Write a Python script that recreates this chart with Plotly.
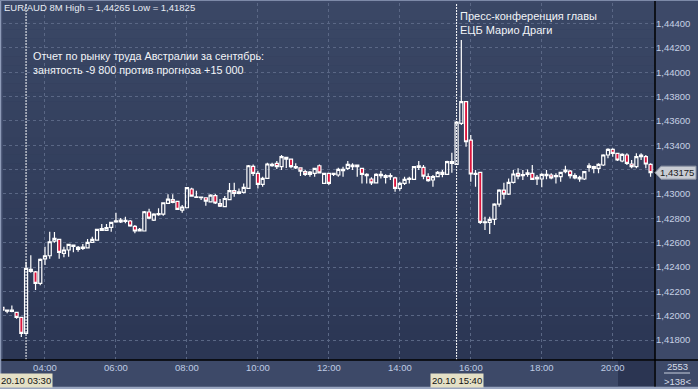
import plotly.graph_objects as go
import pandas as pd

# ---------------- data (EUR/AUD, 8-minute bars, 20.10.2016) ----------------
start_time = "2016-10-20 02:48"
bar_minutes = 8

open_ = [1.42069, 1.42038, 1.42036, 1.42028, 1.41987, 1.41855, 1.42381, 1.42361, 1.42266, 1.42468,
         1.42493, 1.42613, 1.42627, 1.42512, 1.42540, 1.42570, 1.42562, 1.42553, 1.42558, 1.42603,
         1.42622, 1.42701, 1.42701, 1.42726, 1.42770, 1.42770, 1.42775, 1.42778, 1.42734, 1.42696,
         1.42696, 1.42852, 1.42786, 1.42830, 1.42835, 1.42923, 1.42953, 1.42940, 1.42868, 1.42887,
         1.43041, 1.42972, 1.42969, 1.42969, 1.42936, 1.42987, 1.42921, 1.42897, 1.42954, 1.43027,
         1.43005, 1.43013, 1.43046, 1.43227, 1.43170, 1.43079, 1.43128, 1.43232, 1.43252, 1.43224,
         1.43301, 1.43287, 1.43215, 1.43215, 1.43183, 1.43161, 1.43170, 1.43232, 1.43087, 1.43170,
         1.43161, 1.43156, 1.43191, 1.43211, 1.43238, 1.43238, 1.43211, 1.43150, 1.43123, 1.43092,
         1.43150, 1.43150, 1.43142, 1.43133, 1.43046, 1.43087, 1.43120, 1.43120, 1.43219, 1.43219,
         1.43142, 1.43115, 1.43142, 1.43161, 1.43161, 1.43252, 1.43243, 1.43580, 1.43758, 1.43443,
         1.43161, 1.43178, 1.42764, 1.42767, 1.42792, 1.42917, 1.43032, 1.42999, 1.43096, 1.43170,
         1.43151, 1.43161, 1.43170, 1.43123, 1.43123, 1.43150, 1.43156, 1.43142, 1.43142, 1.43183,
         1.43188, 1.43150, 1.43123, 1.43123, 1.43219, 1.43224, 1.43211, 1.43238, 1.43320, 1.43367,
         1.43334, 1.43271, 1.43320, 1.43246, 1.43224, 1.43306, 1.43306, 1.43243]

high = [1.42080, 1.42052, 1.42085, 1.42033, 1.41989, 1.42443, 1.42498, 1.42367, 1.42471, 1.42567,
        1.42690, 1.42687, 1.42630, 1.42567, 1.42588, 1.42585, 1.42572, 1.42589, 1.42630, 1.42649,
        1.42712, 1.42753, 1.42753, 1.42770, 1.42846, 1.42802, 1.42813, 1.42786, 1.42745, 1.42720,
        1.42860, 1.42879, 1.42841, 1.42882, 1.42931, 1.42997, 1.42997, 1.42945, 1.42909, 1.43055,
        1.43051, 1.43027, 1.42980, 1.42972, 1.42997, 1.42999, 1.42958, 1.42983, 1.43090, 1.43092,
        1.43046, 1.43087, 1.43238, 1.43243, 1.43191, 1.43142, 1.43257, 1.43257, 1.43271, 1.43320,
        1.43306, 1.43290, 1.43252, 1.43218, 1.43197, 1.43188, 1.43215, 1.43243, 1.43174, 1.43174,
        1.43174, 1.43215, 1.43224, 1.43271, 1.43252, 1.43243, 1.43215, 1.43170, 1.43137, 1.43170,
        1.43188, 1.43161, 1.43170, 1.43142, 1.43101, 1.43142, 1.43142, 1.43230, 1.43271, 1.43238,
        1.43170, 1.43156, 1.43188, 1.43197, 1.43273, 1.43339, 1.43593, 1.44265, 1.43764, 1.43484,
        1.43197, 1.43180, 1.42813, 1.42813, 1.42923, 1.43038, 1.43092, 1.43128, 1.43197, 1.43211,
        1.43197, 1.43202, 1.43238, 1.43156, 1.43170, 1.43197, 1.43170, 1.43170, 1.43183, 1.43232,
        1.43197, 1.43170, 1.43150, 1.43188, 1.43252, 1.43232, 1.43252, 1.43326, 1.43375, 1.43375,
        1.43339, 1.43334, 1.43334, 1.43279, 1.43334, 1.43334, 1.43320, 1.43252]

low = [1.42038, 1.42020, 1.42030, 1.41975, 1.41825, 1.41850, 1.42353, 1.42211, 1.42250, 1.42416,
       1.42468, 1.42600, 1.42468, 1.42480, 1.42485, 1.42521, 1.42526, 1.42540, 1.42553, 1.42600,
       1.42616, 1.42696, 1.42696, 1.42690, 1.42764, 1.42761, 1.42759, 1.42731, 1.42677, 1.42692,
       1.42692, 1.42792, 1.42778, 1.42821, 1.42821, 1.42920, 1.42923, 1.42868, 1.42846, 1.42884,
       1.42980, 1.42968, 1.42950, 1.42903, 1.42932, 1.42917, 1.42893, 1.42893, 1.42950, 1.42977,
       1.42997, 1.43005, 1.43041, 1.43147, 1.43046, 1.43059, 1.43123, 1.43224, 1.43205, 1.43197,
       1.43213, 1.43211, 1.43205, 1.43147, 1.43147, 1.43142, 1.43142, 1.43170, 1.43082, 1.43073,
       1.43147, 1.43142, 1.43142, 1.43197, 1.43197, 1.43142, 1.43087, 1.43087, 1.43073, 1.43087,
       1.43128, 1.43087, 1.43115, 1.43018, 1.43027, 1.43073, 1.43087, 1.43115, 1.43197, 1.43120,
       1.43101, 1.43059, 1.43139, 1.43137, 1.43156, 1.43174, 1.43238, 1.43566, 1.43388, 1.43101,
       1.43059, 1.42753, 1.42704, 1.42671, 1.42745, 1.42895, 1.42956, 1.42991, 1.43087, 1.43120,
       1.43115, 1.43142, 1.43115, 1.43073, 1.43055, 1.43120, 1.43120, 1.43087, 1.43101, 1.43170,
       1.43128, 1.43120, 1.43101, 1.43115, 1.43183, 1.43170, 1.43170, 1.43230, 1.43293, 1.43306,
       1.43271, 1.43260, 1.43238, 1.43211, 1.43211, 1.43279, 1.43211, 1.43142]

close = [1.42047, 1.42047, 1.42047, 1.41987, 1.41855, 1.42389, 1.42365, 1.42266, 1.42463, 1.42493,
         1.42608, 1.42636, 1.42521, 1.42540, 1.42586, 1.42580, 1.42545, 1.42564, 1.42603, 1.42627,
         1.42710, 1.42715, 1.42723, 1.42767, 1.42780, 1.42786, 1.42783, 1.42737, 1.42696, 1.42710,
         1.42854, 1.42802, 1.42835, 1.42838, 1.42928, 1.42958, 1.42931, 1.42874, 1.42893, 1.43052,
         1.42983, 1.42977, 1.42975, 1.42942, 1.42991, 1.42926, 1.42901, 1.42963, 1.43027, 1.43005,
         1.43018, 1.43055, 1.43232, 1.43170, 1.43079, 1.43128, 1.43246, 1.43243, 1.43224, 1.43306,
         1.43287, 1.43224, 1.43224, 1.43188, 1.43161, 1.43180, 1.43211, 1.43174, 1.43170, 1.43087,
         1.43170, 1.43202, 1.43202, 1.43243, 1.43224, 1.43224, 1.43161, 1.43161, 1.43092, 1.43161,
         1.43161, 1.43137, 1.43150, 1.43046, 1.43087, 1.43120, 1.43128, 1.43224, 1.43230, 1.43147,
         1.43109, 1.43142, 1.43178, 1.43178, 1.43265, 1.43265, 1.43590, 1.43758, 1.43429, 1.43164,
         1.43170, 1.42767, 1.42772, 1.42792, 1.42917, 1.43032, 1.42999, 1.43096, 1.43164, 1.43147,
         1.43160, 1.43174, 1.43120, 1.43137, 1.43161, 1.43161, 1.43133, 1.43150, 1.43178, 1.43197,
         1.43150, 1.43133, 1.43137, 1.43183, 1.43230, 1.43211, 1.43243, 1.43320, 1.43367, 1.43334,
         1.43279, 1.43326, 1.43252, 1.43224, 1.43306, 1.43320, 1.43246, 1.43175]

price_ticks = [1.418, 1.420, 1.422, 1.424, 1.426, 1.428, 1.430, 1.432,
               1.434, 1.436, 1.438, 1.440, 1.442, 1.444]
time_ticks = ["04:00", "06:00", "08:00", "10:00", "12:00", "14:00", "16:00", "18:00", "20:00"]

event_times = ["2016-10-20 03:30", "2016-10-20 15:40"]
event_labels = ["20.10 03:30", "20.10 15:40"]
event_texts = ["Отчет по рынку труда Австралии за сентябрь:<br>занятость -9 800 против прогноза +15 000",
               "Пресс-конференция главы<br>ЕЦБ Марио Драги"]
symbol_title = "EUR/AUD 8M"
corner_texts = ["2553", ">138<"]

# ---------------- figure ----------------
W, H = 698, 389
ML, MR, MT, MB = 3, 43, 3, 29
PW, PH = W - ML - MR, H - MT - MB


def px_x(px):
    return (px - ML) / PW


def px_y(py):
    return (H - MB - py) / PH


def fmt(v):
    return f"{v:.5f}".replace(".", ",")


times = pd.date_range(start_time, periods=len(open_), freq=f"{bar_minutes}min")

fig = go.Figure()
fig.add_trace(go.Candlestick(
    x=times, open=open_, high=high, low=low, close=close,
    increasing=dict(line=dict(color="#ffffff", width=1.2), fillcolor="rgba(0,0,0,0)"),
    decreasing=dict(line=dict(color="#ffffff", width=1.2), fillcolor="#dc143c"),
    whiskerwidth=0, hoverinfo="skip", showlegend=False,
))

shapes = []
# gradient background of the plot area
top_c = (58, 71, 101)
bot_c = (43, 54, 84)
n = 40
for k in range(n):
    f = k / (n - 1)
    c = tuple(int(round(top_c[j] + (bot_c[j] - top_c[j]) * f)) for j in range(3))
    shapes.append(dict(type="rect", xref="paper", yref="paper", x0=0, x1=1,
                       y0=1 - (k + 1) / n, y1=1 - k / n, layer="below",
                       line=dict(width=0), fillcolor=f"rgb{c}"))

# event lines at the bar containing each event
bar_of_event = [pd.Timestamp(t).floor(f"{bar_minutes}min") for t in event_times]
for t in bar_of_event:
    shapes.append(dict(type="line", xref="x", yref="paper", x0=t, x1=t, y0=0, y1=1,
                       line=dict(color="#ffffff", width=1, dash="2px,1px")))

# separators
shapes.append(dict(type="line", xref="paper", yref="paper", x0=px_x(0), x1=px_x(W),
                   y0=0, y1=0, line=dict(color="#000000", width=1.5)))
shapes.append(dict(type="line", xref="paper", yref="paper", x0=1, x1=1,
                   y0=px_y(H), y1=px_y(0), line=dict(color="#000000", width=1.5)))
# dark scroll block at the bottom right of the time axis (drawn under the tick labels)
shapes.append(dict(type="rect", xref="paper", yref="paper", x0=px_x(618), x1=px_x(654),
                   y0=px_y(386), y1=px_y(361), line=dict(width=0), fillcolor="#2b3552",
                   layer="below"))
# window frame
shapes.append(dict(type="line", xref="paper", yref="paper", x0=px_x(0.5), x1=px_x(0.5),
                   y0=px_y(H), y1=px_y(0), line=dict(color="#8e9bb8", width=1.5)))
shapes.append(dict(type="line", xref="paper", yref="paper", x0=px_x(0), x1=px_x(W),
                   y0=px_y(388), y1=px_y(388), line=dict(color="#9aa6c0", width=2.5)))
shapes.append(dict(type="line", xref="paper", yref="paper", x0=px_x(0), x1=px_x(W),
                   y0=px_y(0.5), y1=px_y(0.5), line=dict(color="#7d8aa8", width=1)))
# current price marker
last = close[-1]
half = 6.5 * (0.0293 / PH)
shapes.append(dict(type="path", xref="paper", yref="y",
                   path=(f"M {px_x(655)},{last} L {px_x(661)},{last + half} "
                         f"L {px_x(696)},{last + half} L {px_x(696)},{last - half} "
                         f"L {px_x(661)},{last - half} Z"),
                   line=dict(color="#8c93a3", width=1), fillcolor="#c9ccd3"))
# underline in corner
shapes.append(dict(type="line", xref="paper", yref="paper", x0=px_x(664), x1=px_x(690),
                   y0=px_y(373), y1=px_y(373), line=dict(color="#c8cfdd", width=1)))

ann = []
ann.append(dict(xref="paper", yref="paper", x=px_x(2), y=px_y(8), xanchor="left",
                yanchor="middle", showarrow=False,
                text=f"{symbol_title} High = {fmt(max(high))} Low = {fmt(min(low))}",
                font=dict(size=9.5, color="#e8ecf4")))
# event texts
txt_pos = [(5, 63, 10.8), (1, 23, 11)]
for t, txt, (dx, yy, fs) in zip(bar_of_event, event_texts, txt_pos):
    ann.append(dict(xref="x", yref="paper", x=t, xshift=dx, y=px_y(yy), xanchor="left",
                    yanchor="middle", showarrow=False, text=txt, align="left",
                    font=dict(size=fs, color="#f2f4f8")))
# event time labels on the time axis
for t, lab in zip(bar_of_event, event_labels):
    ann.append(dict(xref="x", yref="paper", x=t, y=px_y(380), xanchor="center",
                    yanchor="middle", showarrow=False, text=lab, bgcolor="#e4e0c6",
                    borderpad=1, font=dict(size=9.5, color="#111111")))
# current price label
ann.append(dict(xref="paper", yref="y", x=px_x(677), y=last, xanchor="center",
                yanchor="middle", showarrow=False, text=fmt(last),
                font=dict(size=9.5, color="#1a1a1a")))
# corner texts
for txt, yy in zip(corner_texts, [366, 381]):
    ann.append(dict(xref="paper", yref="paper", x=px_x(677), y=px_y(yy), xanchor="center",
                    yanchor="middle", showarrow=False, text=txt,
                    font=dict(size=9.5, color="#d6dce8")))

ylab = [("" if abs(v - 1.432) < 1e-9 else fmt(v)) for v in price_ticks]
tick_dates = [pd.Timestamp(f"2016-10-20 {t}") for t in time_ticks]

fig.update_layout(
    width=W, height=H,
    margin=dict(l=ML, r=MR, t=MT, b=MB, pad=0),
    paper_bgcolor="#3d4968",
    plot_bgcolor="#323e5c",
    font=dict(family="Liberation Sans, Arial, sans-serif"),
    shapes=shapes, annotations=ann,
    boxgap=0.35, boxgroupgap=0,
    xaxis=dict(
        type="date",
        range=["2016-10-20 02:49:00", "2016-10-20 21:11:30"],
        tickvals=tick_dates, ticktext=time_ticks,
        showgrid=True, gridcolor="#5a6785", gridwidth=1, griddash="3px,3px",
        zeroline=False, showline=False, ticks="",
        tickfont=dict(size=9.5, color="#bfcbe3"),
        rangeslider=dict(visible=False), fixedrange=True,
    ),
    yaxis=dict(
        side="right",
        range=[1.41637, 1.44568],
        tickvals=price_ticks, ticktext=ylab,
        showgrid=True, gridcolor="#5a6785", gridwidth=1, griddash="3px,3px",
        zeroline=False, showline=False, ticks="",
        tickfont=dict(size=9.5, color="#c6d0e4"),
        fixedrange=True,
    ),
)

fig.write_html("out.html")
